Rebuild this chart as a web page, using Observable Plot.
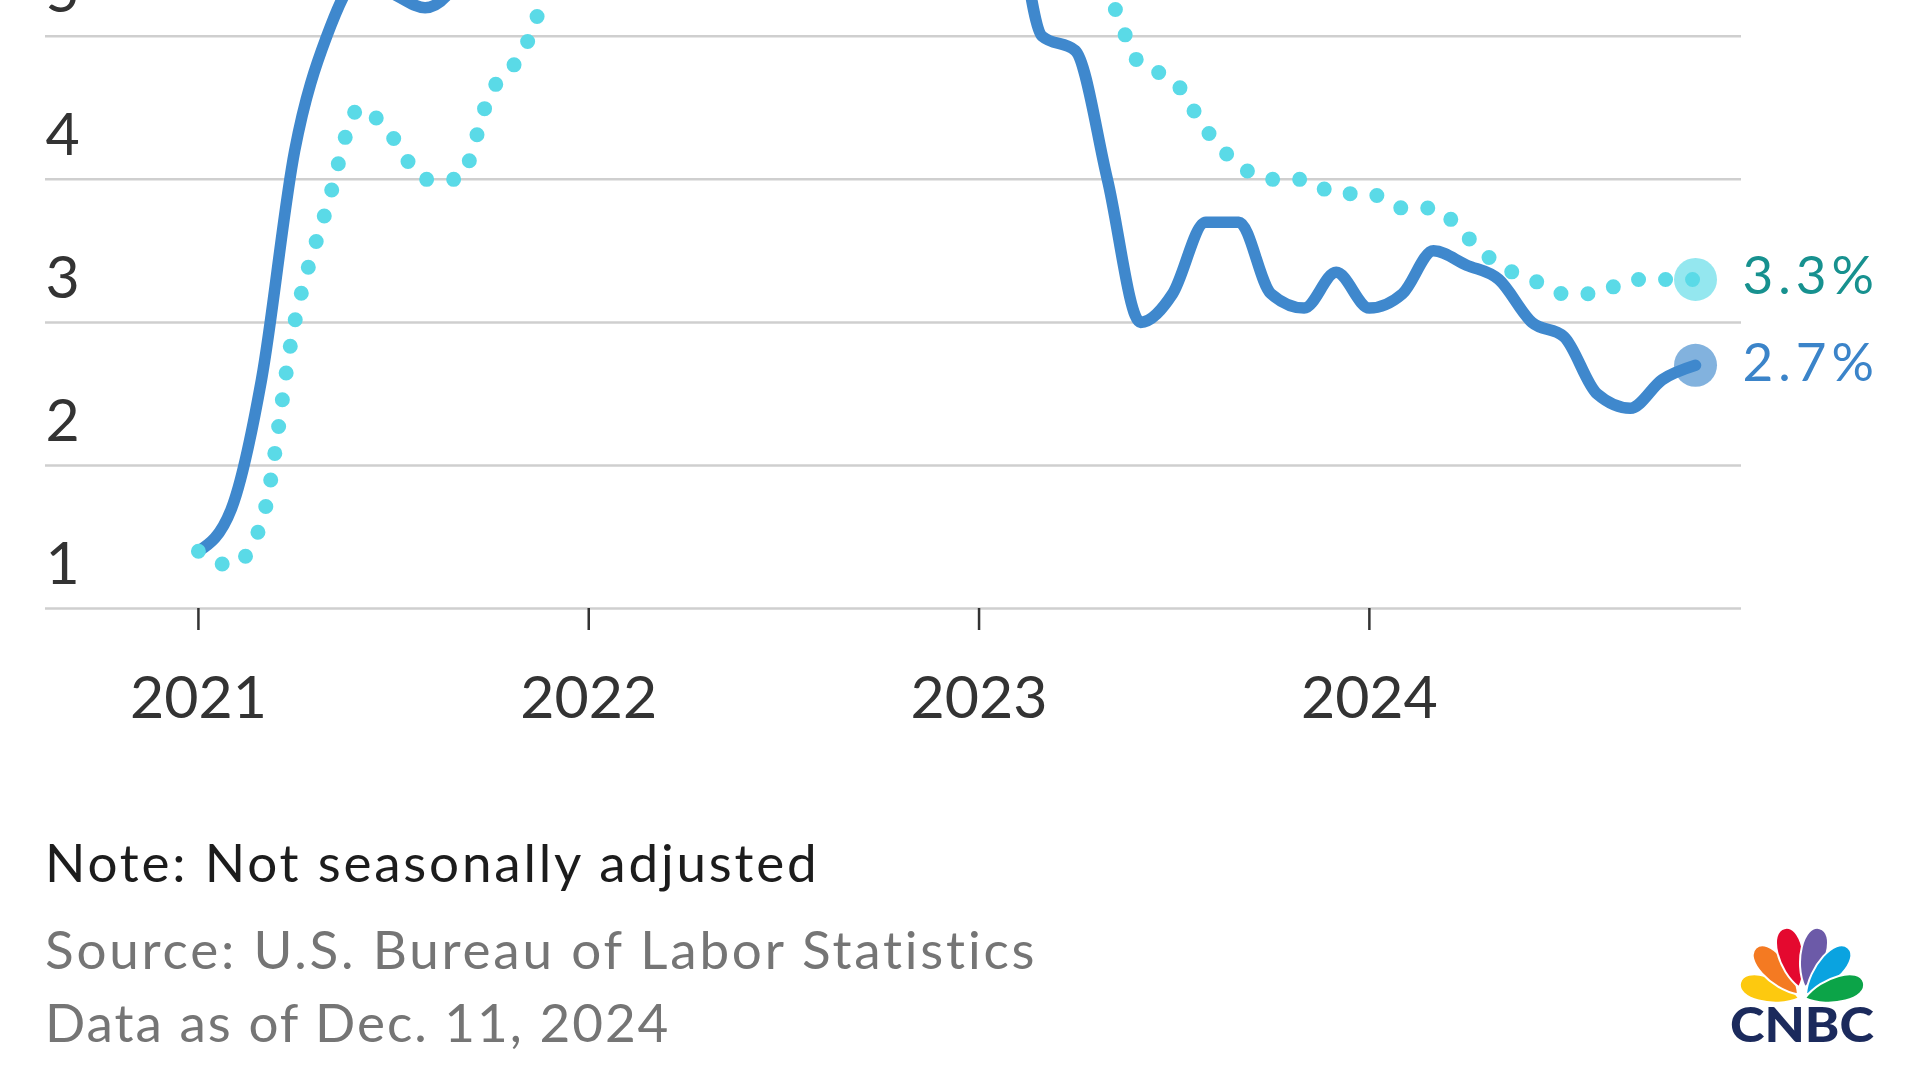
<!DOCTYPE html>
<html>
<head>
<meta charset="utf-8">
<script src="https://cdn.jsdelivr.net/npm/d3@7"></script>
<script src="https://cdn.jsdelivr.net/npm/@observablehq/plot@0.6"></script>
<style>
  html, body { margin: 0; padding: 0; background: #fff; width: 1920px; height: 1080px; overflow: hidden; font-family: Lato, "Noto Sans", sans-serif; }
  #chart { position: absolute; left: 0; top: 0; width: 1920px; overflow: hidden; }
  .foot { position: absolute; left: 45px; font-size: 53px; white-space: nowrap; line-height: 1; letter-spacing: 2.8px; }
  #note { top: 835px; color: #1c1c1c; }
  #source { top: 922px; color: #757575; }
  #asof { top: 995px; color: #757575; letter-spacing: 2px; }
  #logo { position: absolute; left: 1729px; top: 926px; }
  #chart g[fill="#17918f"], #chart g[fill="#3b84c9"] { letter-spacing: 5px; }
</style>
</head>
<body>
<div id="chart"></div>
<div class="foot" id="note">Note: Not seasonally adjusted</div>
<div class="foot" id="source">Source: U.S. Bureau of Labor Statistics</div>
<div class="foot" id="asof">Data as of Dec. 11, 2024</div>
<svg id="logo" width="150" height="130" viewBox="0 0 150 130"></svg>
<script>
// ---- data ----
const months = [
  "2021-01","2021-02","2021-03","2021-04","2021-05","2021-06","2021-07","2021-08","2021-09","2021-10","2021-11","2021-12",
  "2022-01","2022-02","2022-03","2022-04","2022-05","2022-06","2022-07","2022-08","2022-09","2022-10","2022-11","2022-12",
  "2023-01","2023-02","2023-03","2023-04","2023-05","2023-06","2023-07","2023-08","2023-09","2023-10","2023-11","2023-12",
  "2024-01","2024-02","2024-03","2024-04","2024-05","2024-06","2024-07","2024-08","2024-09","2024-10","2024-11"
];
// CPI, all items, 12-month % change
const cpiAll = [
  1.4, 1.7, 2.6, 4.2, 5.0, 5.4, 5.3, 5.2, 5.4, 6.2, 6.8, 7.0,
  7.5, 7.9, 8.5, 8.3, 8.6, 9.1, 8.5, 8.3, 8.2, 7.7, 7.1, 6.5,
  6.4, 6.0, 5.0, 4.9, 4.0, 3.0, 3.2, 3.7, 3.7, 3.2, 3.1, 3.35,
  3.1, 3.2, 3.5, 3.4, 3.3, 3.0, 2.9, 2.5, 2.4, 2.6, 2.7
];
// Core CPI (less food and energy), 12-month % change
const cpiCore = [
  1.4, 1.3, 1.6, 3.0, 3.8, 4.5, 4.3, 4.0, 4.0, 4.6, 4.9, 5.5,
  6.0, 6.4, 6.5, 6.2, 6.0, 5.9, 5.9, 6.3, 6.6, 6.3, 6.0, 5.7,
  5.6, 5.5, 5.6, 5.5, 5.3, 4.8, 4.7, 4.35, 4.1, 4.0, 4.0, 3.9,
  3.9, 3.8, 3.8, 3.6, 3.4, 3.3, 3.2, 3.2, 3.3, 3.3, 3.3
];
const yTicks = [1, 2, 3, 4, 5];
const xTickYears = ["2021", "2022", "2023", "2024"];

// ---- build tables ----
const parseMonth = d3.utcParse("%Y-%m");
const parseYear = d3.utcParse("%Y");
const allData = months.map((m, i) => ({date: parseMonth(m), value: cpiAll[i]}));
const coreData = months.map((m, i) => ({date: parseMonth(m), value: cpiCore[i]}));
const xTicks = xTickYears.map(parseYear);
const lastAll = allData[allData.length - 1];
const lastCore = coreData[coreData.length - 1];

const blue = "#3f88cd";
const cyan = "#5adae7";

const chart = Plot.plot({
  width: 1920,
  height: 760,
  marginLeft: 45,
  marginRight: 179,
  marginTop: 0,
  marginBottom: 152,
  x: {type: "utc", domain: [new Date(Date.UTC(2020, 7, 11)), new Date(Date.UTC(2024, 11, 14))]},
  y: {domain: [1, 5.25], axis: null},
  style: {fontFamily: "Lato, 'Noto Sans', sans-serif", background: "white", overflow: "hidden"},
  marks: [
    Plot.ruleY(yTicks, {y: d => d, stroke: "#cfcfcf", strokeWidth: 2.5}),
    Plot.text(yTicks, {y: d => d, text: d => String(d), frameAnchor: "left", textAnchor: "start", dy: -43, fontSize: 59, fill: "#333"}),
    Plot.axisX(xTicks, {tickSize: 22, tickPadding: 46, tickFormat: d => String(d.getUTCFullYear()), fontSize: 59, stroke: "#333", strokeWidth: 2.5, color: "#333", label: null}),
    Plot.line(allData, {x: "date", y: "value", stroke: blue, strokeWidth: 11.5, curve: "monotone-x", strokeLinecap: "round", strokeLinejoin: "round", clip: true}),
    Plot.line(coreData, {x: "date", y: "value", stroke: cyan, strokeWidth: 15, strokeDasharray: "0 27", strokeLinecap: "round", curve: "monotone-x", clip: true}),
    Plot.dot([lastCore], {x: "date", y: "value", r: 21.5, fill: cyan, fillOpacity: 0.65, stroke: "none"}),
    Plot.dot([lastAll], {x: "date", y: "value", r: 21.5, fill: blue, fillOpacity: 0.65, stroke: "none"}),
    Plot.text([lastCore], {x: "date", y: "value", text: d => d.value.toFixed(1) + "%", dx: 47, dy: -2, textAnchor: "start", fontSize: 53, fill: "#17918f"}),
    Plot.text([lastAll], {x: "date", y: "value", text: d => d.value.toFixed(1) + "%", dx: 47, dy: -1, textAnchor: "start", fontSize: 53, fill: "#3b84c9"})
  ]
});
document.getElementById("chart").appendChild(chart);

// ---- CNBC logo (decoration) ----
const logo = d3.select("#logo");
const feathers = [
  {a: -75, L: 61, d: 3,  c: "#fdc90f"},
  {a: -42, L: 63, d: 6,  c: "#f47a22"},
  {a: -14, L: 61, d: 12, c: "#e4092f"},
  {a: 14,  L: 61, d: 12, c: "#6c5aa8"},
  {a: 42,  L: 63, d: 6,  c: "#0aa3e0"},
  {a: 75,  L: 61, d: 3,  c: "#0ca448"}
];
const fg = logo.append("g").attr("transform", "translate(73,73)");
feathers.forEach(f => {
  const w = 17, L = f.L;
  fg.append("path")
    .attr("transform", `rotate(${f.a}) translate(0,${-f.d})`)
    .attr("d", `M0,0 C${-w},${-0.35 * L} ${-w},${-L} 0,${-L} C${w},${-L} ${w},${-0.35 * L} 0,0 Z`)
    .attr("fill", f.c)
    .attr("stroke", "#fff")
    .attr("stroke-width", 2);
});
logo.append("text")
  .attr("x", 1).attr("y", 116)
  .attr("textLength", 144).attr("lengthAdjust", "spacingAndGlyphs")
  .attr("font-family", "Lato, sans-serif").attr("font-weight", 900).attr("font-size", 48)
  .attr("fill", "#1b2a5c")
  .text("CNBC");
</script>
</body>
</html>
